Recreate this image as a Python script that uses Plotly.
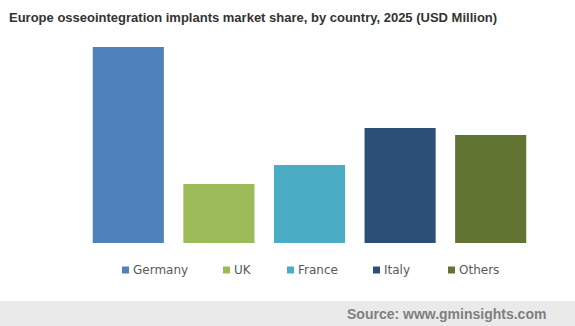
import plotly.graph_objects as go

# Market share by country, 2025 (USD Million)
countries = ["Germany", "UK", "France", "Italy", "Others"]
values = [196, 59, 78, 115, 108]
colors = ["#4F81BD", "#9BBB59", "#4BACC6", "#2C4F78", "#617432"]

W, H = 575, 326
# plot area in pixels
L, R, T, B = 83, 536, 47, 243
PW, PH = R - L, B - T


def px_x(px):
    return (px - L) / PW


def px_y(py):
    return (B - py) / PH


fig = go.Figure(
    go.Bar(
        x=countries,
        y=values,
        marker=dict(color=colors, line=dict(width=0)),
        showlegend=False,
        hoverinfo="x+y",
    )
)

shapes = []
annotations = []

# footer band
shapes.append(dict(
    type="rect", xref="paper", yref="paper",
    x0=px_x(0), x1=px_x(W), y0=px_y(H), y1=px_y(301),
    fillcolor="#EAEAEA", line=dict(width=0), layer="below",
))
annotations.append(dict(
    text="<b>Source: www.gminsights.com</b>", xref="paper", yref="paper",
    x=px_x(548), y=px_y(313.5), xanchor="right", yanchor="middle",
    showarrow=False, font=dict(family="Liberation Sans, Arial", size=14, color="#7F7F7F"),
))

# legend: colored squares with labels underneath the bars
legend_text_x = [132, 233, 297, 383, 458]
for name, col, tx in zip(countries, colors, legend_text_x):
    shapes.append(dict(
        type="rect", xref="paper", yref="paper",
        x0=px_x(tx - 10), x1=px_x(tx - 3), y0=px_y(273.5), y1=px_y(266.5),
        fillcolor=col, line=dict(width=0),
    ))
    annotations.append(dict(
        text=name, xref="paper", yref="paper",
        x=px_x(tx - 1), y=px_y(270), xanchor="left", yanchor="middle",
        showarrow=False, font=dict(family="DejaVu Sans", size=12, color="#595959"),
    ))

fig.update_layout(
    width=W, height=H,
    margin=dict(l=L, r=W - R, t=T, b=H - B),
    paper_bgcolor="white", plot_bgcolor="white",
    bargap=0.215,
    title=dict(
        text="<b>Europe osseointegration implants market share, by country, 2025 (USD Million)</b>",
        x=9 / W, xanchor="left", xref="container",
        y=1 - 17.5 / H, yanchor="middle", yref="container",
        font=dict(family="Liberation Sans, Arial", size=13, color="#333333"),
    ),
    xaxis=dict(visible=False, showgrid=False),
    yaxis=dict(visible=False, showgrid=False, range=[0, max(values)]),
    shapes=shapes,
    annotations=annotations,
)

fig.write_html("out.html", config={"displayModeBar": False})
